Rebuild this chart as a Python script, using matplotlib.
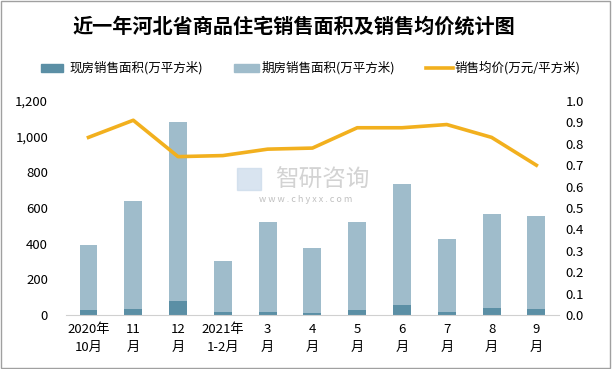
import matplotlib
matplotlib.use("Agg")
import matplotlib.pyplot as plt
import numpy as np
from matplotlib.patches import Rectangle
from matplotlib.lines import Line2D

plt.rcParams['font.family'] = ['Noto Sans CJK SC', 'DejaVu Sans']

# données
mois = ['2020年\n10月', '11\n月', '12\n月', '2021年\n1-2月', '3\n月', '4\n月',
        '5\n月', '6\n月', '7\n月', '8\n月', '9\n月']
xianfang = [30, 35, 80, 17, 17, 12, 28, 58, 18, 40, 35]
total = [390, 640, 1080, 305, 520, 375, 520, 735, 425, 565, 555]
qifang = [t - x for t, x in zip(total, xianfang)]
prix = [0.83, 0.91, 0.74, 0.745, 0.775, 0.78, 0.875, 0.875, 0.89, 0.83, 0.70]

c_dark = '#5b8fa5'
c_light = '#9fbccb'
c_line = '#f2b01e'

fig = plt.figure(figsize=(6.12, 3.69), dpi=100)
ax = fig.add_axes([0.108, 0.1463, 0.805, 0.58])
x = np.arange(len(mois))

ax.bar(x, xianfang, width=0.4, color=c_dark, zorder=2)
ax.bar(x, qifang, width=0.4, bottom=xianfang, color=c_light, zorder=2)
ax.set_xlim(-0.5, len(mois) - 0.5)
ax.set_ylim(0, 1200)
ax.set_yticks(np.arange(0, 1201, 200))
ax.set_yticklabels(['{:,}'.format(v) for v in range(0, 1201, 200)])
ax.set_xticks(x)
ax.set_xticklabels(mois, linespacing=1.45)
for s in ['top', 'left', 'right']:
    ax.spines[s].set_visible(False)
ax.spines['bottom'].set_color('#d0d0d0')
ax.tick_params(axis='both', length=0, labelsize=9.5)
ax.tick_params(axis='y', pad=13)
ax.tick_params(axis='x', pad=6)

ax2 = ax.twinx()
ax2.plot(x, prix, color=c_line, lw=2.6, zorder=3)
ax2.set_ylim(0, 1.0)
ax2.set_yticks(np.arange(0, 1.01, 0.1))
ax2.set_yticklabels(['{:.1f}'.format(v) for v in np.arange(0, 1.01, 0.1)])
for s in ['top', 'left', 'right', 'bottom']:
    ax2.spines[s].set_visible(False)
ax2.tick_params(axis='y', length=0, labelsize=9.5, pad=5)

# filigrane
fig.patches.append(Rectangle((237 / 612, 1 - 190 / 369), 24 / 612, 0.06, color='#c9d9ea',
                             alpha=0.7, transform=fig.transFigure, figure=fig))
fig.text(322 / 612, 1 - 180 / 369, '智研咨询', fontsize=17, color='#c8c8c8', ha='center',
         va='center', alpha=0.8)
fig.text(306 / 612, 1 - 199 / 369, 'w w w . c h y x x . c o m', fontsize=6.5, color='#c0c0c0',
         ha='center', va='center')

# titre
fig.text(294 / 612, 1 - 26.5 / 369, '近一年河北省商品住宅销售面积及销售均价统计图', fontsize=14.5,
         fontweight='bold', ha='center', va='center')

# légende
ly = 1 - 68 / 369
fig.patches.append(Rectangle((41 / 612, ly - 0.012), 22 / 612, 0.024, color=c_dark,
                             transform=fig.transFigure, figure=fig))
fig.text(69 / 612, ly, '现房销售面积(万平方米)', fontsize=9, va='center')
fig.patches.append(Rectangle((234 / 612, ly - 0.012), 25 / 612, 0.024, color=c_light,
                             transform=fig.transFigure, figure=fig))
fig.text(262 / 612, ly, '期房销售面积(万平方米)', fontsize=9, va='center')
fig.lines.append(Line2D([426 / 612, 453 / 612], [ly, ly], color=c_line, lw=2.6,
                        transform=fig.transFigure, figure=fig))
fig.text(455 / 612, ly, '销售均价(万元/平方米)', fontsize=9, va='center')

# bordure
fig.patches.append(Rectangle((0.002, 0.003), 0.995, 0.993, fill=False, ec='#a0a0a0', lw=1,
                             transform=fig.transFigure, figure=fig))

fig.savefig('out.png', dpi=100)
